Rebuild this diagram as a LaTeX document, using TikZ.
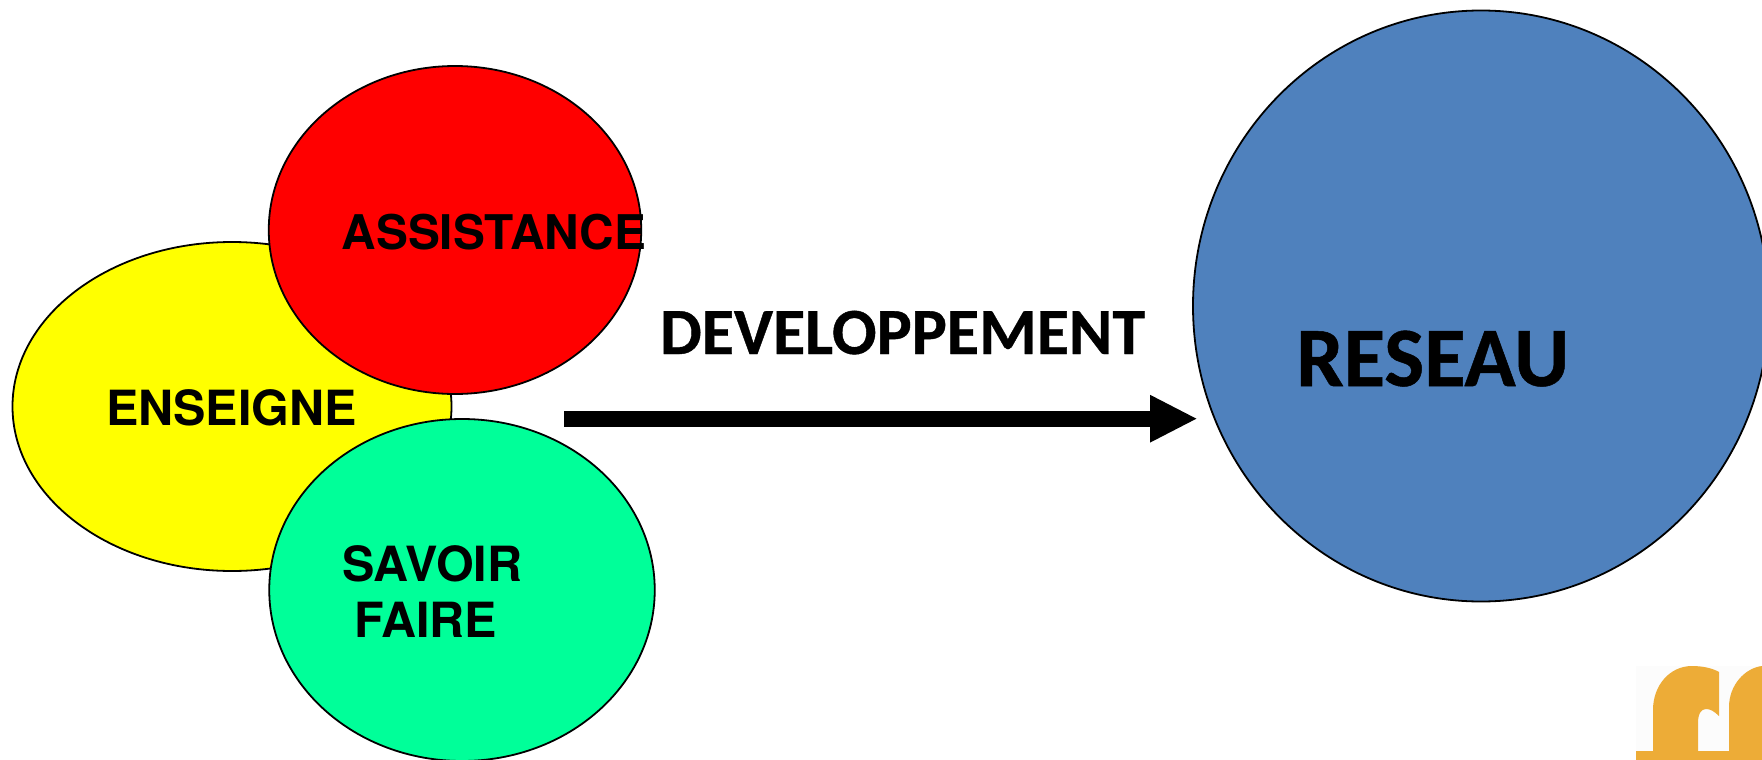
\documentclass[tikz,border=0pt]{standalone}
\usepackage{fontspec}
\setmainfont{TeX Gyre Heros}
\newfontfamily\carl[UprightFont=* Bold,UprightFeatures={FakeBold=0.6}]{Carlito}
\usetikzlibrary{shapes.geometric,arrows.meta}
\definecolor{yel}{HTML}{FFFF00}
\definecolor{rd}{HTML}{FF0000}
\definecolor{grn}{HTML}{00FF99}
\definecolor{blu}{HTML}{4F81BD}
\definecolor{org}{HTML}{EDAC37}
\definecolor{paleb}{HTML}{FCFCFC}
\tikzset{
  blob/.style={ellipse,draw=black,line width=1.8pt,inner sep=0pt},
  lab/.style={inner sep=0pt,anchor=base west,text=black,font=\fontsize{48.5}{48.5}\selectfont\bfseries},
  carlab/.style={inner sep=0pt,anchor=base west,text=black},
  bigarrow/.style={line width=16pt,-{Triangle[width=44pt,length=47.6pt]}}
}
\begin{document}
\begin{tikzpicture}[x=1pt,y=-1pt]
\useasboundingbox (0,0) rectangle (1762,760);
% logo
\fill[paleb] (1636,666) rectangle (1762,760);
\fill[org] (1636,751) -- (1653,751) -- (1653,710)
  .. controls (1653,685) and (1670,666) .. (1692,666)
  .. controls (1702,666) and (1712,668) .. (1719,672)
  -- (1719,716) .. controls (1714,711) and (1710,709) .. (1706,709)
  .. controls (1701,709) and (1698,714) .. (1698,723)
  -- (1698,751) -- (1729,751) -- (1729,707)
  .. controls (1729,685) and (1745,668) .. (1762,666)
  -- (1762,760) -- (1636,760) -- cycle;
% ellipses
\node[blob,fill=yel,minimum width=439pt,minimum height=329pt] (ens) at (232,406.5) {};
\node[blob,fill=rd,minimum width=372.5pt,minimum height=328pt] (ass) at (455,230) {};
\node[blob,fill=grn,minimum width=385.5pt,minimum height=342pt] (sav) at (462,590) {};
\node[blob,fill=blu,minimum width=576pt,minimum height=591pt] (res) at (1481,306) {};
% labels
\node[lab,font=\fontsize{47.8}{47.8}\selectfont\bfseries] (tass) at (341.5,249) {ASSISTANCE};
\node[lab] (tens) at (106,425) {ENSEIGNE};
\node[lab] (tsav) at (342,581) {SAVOIR};
\node[lab] (tfai) at (354.5,637) {FAIRE};
\node[carlab,font=\carl\fontsize{66}{66}\selectfont] (tdev) at (660,354) {DEVELOPPEMENT};
\node[carlab,font=\carl\fontsize{84.5}{84.5}\selectfont] (tres) at (1296,386) {RESEAU};
% arrow
\coordinate (arrS) at (564,418.7);
\coordinate (arrE) at (1197.6,418.7);
\draw[bigarrow] (arrS) -- (arrE);
\end{tikzpicture}
\end{document}
